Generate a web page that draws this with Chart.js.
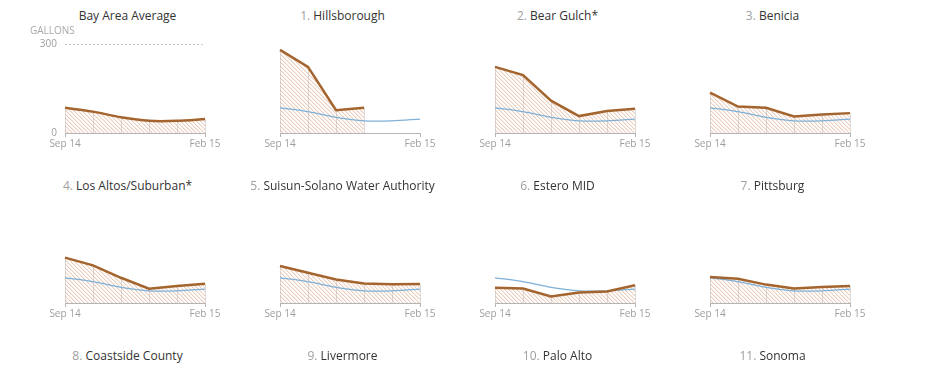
<!DOCTYPE html>
<html lang="en">
<head>
<meta charset="UTF-8">
<title>Residential water use per person</title>
<script src="https://cdn.jsdelivr.net/npm/chart.js"></script>
<style>
  body { margin: 0; width: 936px; height: 377px; overflow: hidden; background: #fff; font-family: "Open Sans", sans-serif; }
  #wrap { position: relative; width: 936px; height: 377px; }
  .ttl { position: absolute; transform: translateX(-50%); font-size: 12px; color: #333; white-space: nowrap; }
  .ttl span { color: #a0a0a0; }
  canvas.mini { position: absolute; }
</style>
</head>
<body>
<div id="wrap"></div>
<script>
// monthly gallons per person per day
const months = ['Sep 14', 'Oct 14', 'Nov 14', 'Dec 14', 'Jan 15', 'Feb 15'];
const bayAverage   = [85, 72, 53, 41, 41, 47];
const hillsborough = [280, 223, 77, 85, null, null];
const bearGulch    = [223, 195, 109, 57, 74, 82];
const benicia      = [136, 89, 85, 56, 62, 67];
const losAltos     = [153, 127, 85, 48, 57, 65];
const suisunSolano = [125, 102, 79, 66, 63, 64];
const esteroMid    = [51, 49, 22, 35, 39, 60];
const pittsburg    = [88, 82, 62, 49, 54, 57];

const panels = [
  { num: '',    name: 'Bay Area Average', data: bayAverage },
  { num: '1.',  name: 'Hillsborough', data: hillsborough },
  { num: '2.',  name: 'Bear Gulch*', data: bearGulch },
  { num: '3.',  name: 'Benicia', data: benicia },
  { num: '4.',  name: 'Los Altos/Suburban*', data: losAltos },
  { num: '5.',  name: 'Suisun-Solano Water Authority', data: suisunSolano },
  { num: '6.',  name: 'Estero MID', data: esteroMid },
  { num: '7.',  name: 'Pittsburg', data: pittsburg },
  { num: '8.',  name: 'Coastside County', data: null },
  { num: '9.',  name: 'Livermore', data: null },
  { num: '10.', name: 'Palo Alto', data: null },
  { num: '11.', name: 'Sonoma', data: null }
];

const BROWN = '#a4642e';
const BLUE = '#7eb0d8';
const GREY = '#9d9d9d';

// soft two-pixel diagonal hatch
function hatch() {
  const c = document.createElement('canvas');
  c.width = 4; c.height = 4;
  const g = c.getContext('2d');
  for (let i = 0; i < 4; i++) {
    g.fillStyle = 'rgb(236,208,192)';
    g.fillRect(i, i, 1, 1);
    g.fillStyle = 'rgb(247,233,225)';
    g.fillRect((i + 1) % 4, i, 1, 1);
  }
  return g.createPattern(c, 'repeat');
}

// thin vertical lines from each month's value down to zero
const dropLines = {
  id: 'dropLines',
  beforeDatasetsDraw(chart) {
    const ctx = chart.ctx;
    const y = chart.scales.y;
    const meta = chart.getDatasetMeta(0);
    ctx.save();
    ctx.strokeStyle = 'rgba(190,180,175,0.5)';
    ctx.lineWidth = 1;
    meta.data.forEach((pt, i) => {
      if (chart.data.datasets[0].data[i] == null) return;
      ctx.beginPath();
      ctx.moveTo(Math.round(pt.x) + 0.5, pt.y);
      ctx.lineTo(Math.round(pt.x) + 0.5, y.getPixelForValue(0));
      ctx.stroke();
    });
    ctx.restore();
  }
};

const unitLabel = {
  id: 'unitLabel',
  afterDraw(chart, args, opts) {
    if (!opts.show) return;
    const y = chart.scales.y;
    const ctx = chart.ctx;
    ctx.save();
    ctx.font = '10px "Open Sans"';
    ctx.fillStyle = '#a8a8a8';
    ctx.textAlign = 'left';
    ctx.textBaseline = 'middle';
    ctx.fillText('GALLONS', chart.chartArea.left - 35, y.getPixelForValue(300) - 13);
    ctx.restore();
  }
};

const wrap = document.getElementById('wrap');

panels.forEach((p, k) => {
  const col = k % 4, row = Math.floor(k / 4);
  const t = document.createElement('div');
  t.className = 'ttl';
  t.style.left = (127.5 + 215 * col) + 'px';
  t.style.top = (170 * row + 7) + 'px';
  t.innerHTML = (p.num ? '<span>' + p.num + '</span> ' : '') + p.name;
  wrap.appendChild(t);
  if (!p.data) return;

  const first = k === 0;
  const cv = document.createElement('canvas');
  cv.className = 'mini';
  cv.width = 225; cv.height = 132;
  cv.style.left = (215 * col) + 'px';
  cv.style.top = (170 * row + 25) + 'px';
  wrap.appendChild(cv);

  const datasets = [{
    data: p.data,
    borderColor: BROWN,
    borderWidth: 2.5,
    backgroundColor: hatch(),
    fill: 'origin',
    pointRadius: 0,
    tension: first ? 0.3 : 0,
    spanGaps: false,
    order: 0
  }];
  if (!first) {
    datasets.push({
      data: bayAverage,
      borderColor: BLUE,
      borderWidth: 1.3,
      fill: false,
      pointRadius: 0,
      tension: 0.3,
      order: 1
    });
  }

  new Chart(cv, {
    type: 'line',
    data: { labels: months, datasets: datasets },
    plugins: [dropLines, unitLabel],
    options: {
      responsive: false,
      animation: false,
      layout: { padding: { left: 40, right: 20, top: 19, bottom: 4 } },
      plugins: {
        legend: { display: false },
        tooltip: { enabled: false },
        filler: { drawTime: 'beforeDatasetsDraw' },
        unitLabel: { show: first }
      },
      scales: {
        x: {
          offset: false,
          afterFit: s => { s.height = 20; },
          border: { display: true, color: '#b5b5b5', width: 1 },
          grid: {
            drawOnChartArea: false,
            tickLength: 4,
            color: c => (c.index === 0 || c.index === months.length - 1) ? '#b5b5b5' : 'rgba(0,0,0,0)'
          },
          ticks: {
            autoSkip: false,
            maxRotation: 0,
            padding: 1,
            color: GREY,
            font: { family: 'Open Sans', size: 10 },
            callback: (v, i) => (i === 0 || i === months.length - 1) ? months[i] : ''
          }
        },
        y: {
          min: 0,
          max: 300,
          afterFit: s => { s.width = 25; },
          border: { display: false, dash: [2, 2] },
          grid: {
            display: first,
            drawTicks: false,
            color: c => c.tick.value === 300 ? '#c4c4c4' : 'rgba(0,0,0,0)'
          },
          ticks: {
            display: first,
            stepSize: 300,
            padding: 8,
            color: GREY,
            font: { family: 'Open Sans', size: 10 }
          }
        }
      }
    }
  });
});
</script>
</body>
</html>
